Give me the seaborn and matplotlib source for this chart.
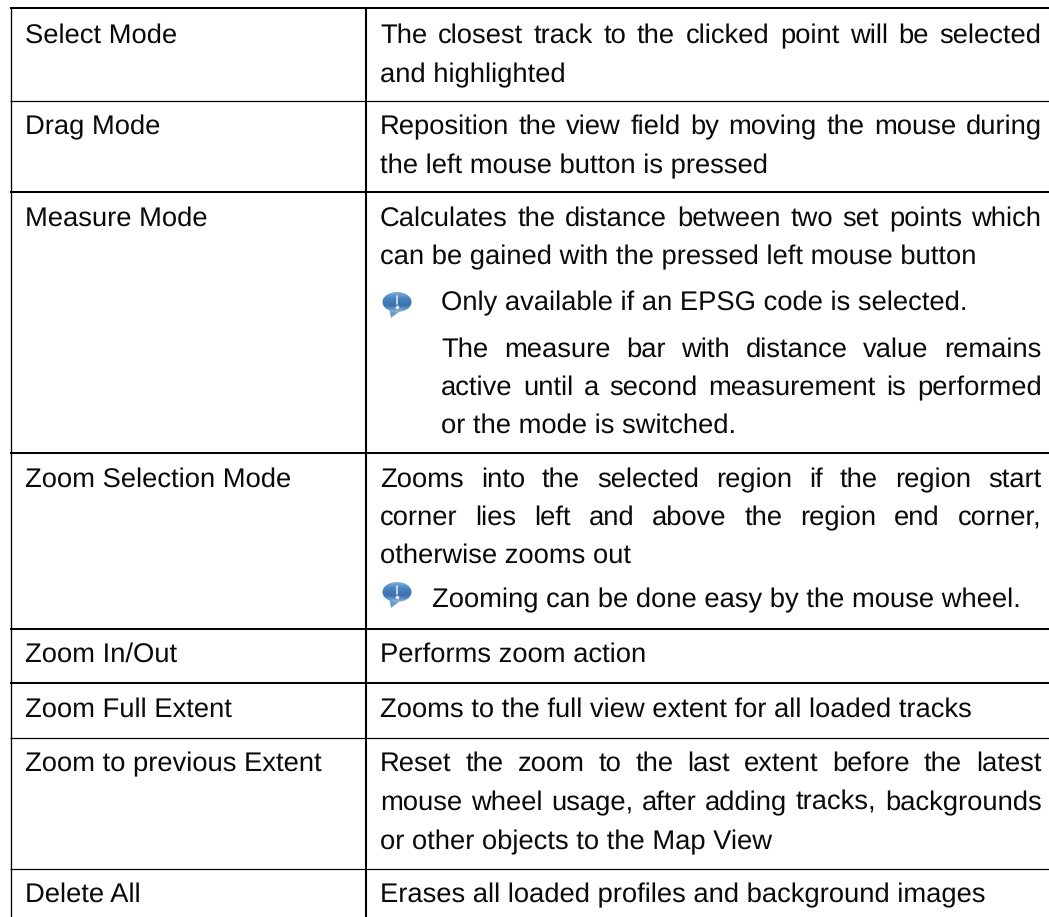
import numpy as np
import matplotlib
matplotlib.use("Agg")
import matplotlib.pyplot as plt
from matplotlib.patches import Ellipse, Polygon
import seaborn as sns

# left column labels and their baselines
modes = ["Select Mode", "Drag Mode", "Measure Mode", "Zoom Selection Mode",
         "Zoom In/Out", "Zoom Full Extent", "Zoom to previous Extent", "Delete All"]
mode_y = [43, 134, 226, 487, 662, 717, 771, 902]

# right column, one entry per printed line
desc_lines = [
    "The closest track to the clicked point will be selected",
    "and highlighted",
    "Reposition the view field by moving the mouse during",
    "the left mouse button is pressed",
    "Calculates the distance between two set points which",
    "can be gained with the pressed left mouse button",
    "Only available if an EPSG code is selected.",
    "The measure bar with distance value remains",
    "active until a second measurement is performed",
    "or the mode is switched.",
    "Zooms into the selected region if the region start",
    "corner lies left and above the region end corner,",
    "otherwise zooms out",
    "Zooming can be done easy by the mouse wheel.",
    "Performs zoom action",
    "Zooms to the full view extent for all loaded tracks",
    "Reset the zoom to the last extent before the latest",
    "mouse wheel usage, after adding tracks, backgrounds",
    "or other objects to the Map View",
    "Erases all loaded profiles and background images",
]
desc_y = [43, 82, 134, 173, 226, 264, 310, 357, 395, 433,
          487, 525, 563, 607, 662, 717, 771, 810, 849, 902]
desc_x = [380, 380, 380, 380, 380, 380, 441, 441, 441, 441,
          380, 380, 380, 432, 380, 380, 380, 380, 380, 380]
justified = [1, 0, 1, 0, 1, 0, 0, 1, 1, 0, 1, 1, 0, 0, 0, 0, 1, 1, 0, 0]

rule_y = [8, 101, 192, 453, 629, 682.5, 737.5, 868.5]
rule_w = [2, 1.2, 2, 2, 2, 2, 1.2, 1.2]
icon_y = [302, 592]

RIGHT = 1041.5
FS = 19.7
INK = "#0a0a0a"

sns.set_theme(style="white")
plt.rcParams["font.family"] = ["Liberation Sans", "DejaVu Sans"]
plt.rcParams["text.hinting"] = "no_hinting"

fig, ax = plt.subplots(figsize=(10.49, 9.17), dpi=100)
fig.subplots_adjust(0, 0, 1, 1)

# table rules
for y, w in zip(rule_y, rule_w):
    sns.lineplot(x=[10, 1049], y=[y, y], color="#000000", linewidth=w * 0.72,
                 solid_capstyle="butt", ax=ax)
sns.lineplot(x=[10.5, 10.5], y=[7, 917], color="#000000", linewidth=0.95, orient="y",
             solid_capstyle="butt", ax=ax)
sns.lineplot(x=[366, 366], y=[7, 917], color="#000000", linewidth=1.5, orient="y",
             solid_capstyle="butt", ax=ax)

ax.set_xlim(0, 1049)
ax.set_ylim(917, 0)
ax.axis("off")
rend = fig.canvas.get_renderer()


def put(x, y, s):
    return ax.text(x, y, s, fontsize=FS, color=INK, va="baseline", ha="left")


def word_w(s):
    t = put(0, 0, s)
    w = t.get_window_extent(rend).width
    t.remove()
    return w


for s, y in zip(modes, mode_y):
    put(25, y, s)

for s, x, y, j in zip(desc_lines, desc_x, desc_y, justified):
    if not j:
        put(x, y, s)
        continue
    # stretch the gaps so the line ends on the right margin
    words = s.split(" ")
    widths = [word_w(w) for w in words]
    gap = (RIGHT - x - sum(widths)) / (len(words) - 1)
    cx = x
    for w, ww in zip(words, widths):
        put(cx, y, w)
        cx += ww + gap

# note icons
grad = np.linspace(0, 1, 40).reshape(-1, 1)
cmap = matplotlib.colors.LinearSegmentedColormap.from_list("ic", ["#8db4dc", "#4a82bd", "#3a72b0", "#9abfe0"])
for cy in icon_y:
    tail = Polygon([(389, cy + 6), (391, cy + 16), (400, cy + 9)], color="#6a9bcb", lw=0, zorder=3)
    ax.add_patch(tail)
    im = ax.imshow(grad, cmap=cmap, extent=(382, 412, cy + 11, cy - 11), aspect="auto", zorder=3)
    im.set_clip_path(Ellipse((397, cy), 29, 20, transform=ax.transData))
    ax.plot([397, 397], [cy - 6, cy + 1.5], color="white", lw=1.2, alpha=0.8, zorder=4)
    ax.plot([397], [cy + 4.5], marker="o", ms=1.6, color="white", alpha=0.8, zorder=4)

ax.set_xlim(0, 1049)
ax.set_ylim(917, 0)
fig.savefig("out.png", dpi=100, facecolor="white")
